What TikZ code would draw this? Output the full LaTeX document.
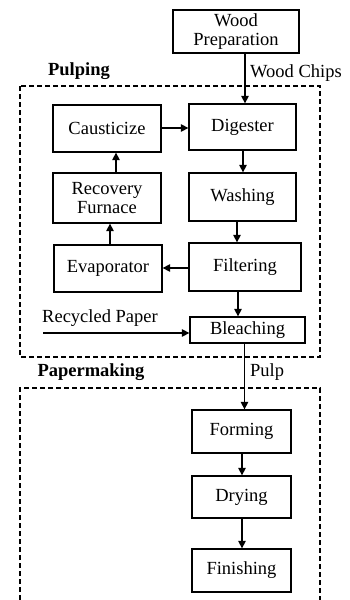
\documentclass[tikz,border=0pt]{standalone}
\usepackage{fontspec}
\setmainfont{Liberation Serif}
\usetikzlibrary{arrows.meta}
\begin{document}
\begin{tikzpicture}[x=1pt,y=-1pt,
  every node/.style={font=\fontsize{18.5}{19.5}\selectfont},
  proc/.style={draw,line width=1.3pt,inner sep=0pt,align=center},
  arr/.style={line width=1.4pt,-{Triangle[length=7.5pt,width=7.5pt]}},
  zone/.style={dashed,line width=1.2pt,dash pattern=on 5pt off 3pt},
  lbl/.style={font=\fontsize{18.5}{19.5}\selectfont\bfseries}]
\useasboundingbox (0,0) rectangle (349,600);
% zones
\draw[zone] (20,86) rectangle (320,357);
\draw[zone] (20,600) -- (20,388) -- (320,388) -- (320,600);
\node[lbl] (pulping) at (79,71) {Pulping};
\node[lbl,anchor=west] (papermaking) at (34,372) {Papermaking};
% boxes
\node[proc,minimum width=126pt,minimum height=43pt] (wp) at (236,31.5) {Wood\\Preparation};
\node[proc,minimum width=108pt,minimum height=47pt] (caus) at (107,128.5) {Causticize};
\node[proc,minimum width=107pt,minimum height=46pt] (dig) at (242.5,127) {Digester};
\node[proc,minimum width=108pt,minimum height=50pt] (rec) at (107,198) {Recovery\\Furnace};
\node[proc,minimum width=107pt,minimum height=48pt] (wash) at (242.5,197) {Washing};
\node[proc,minimum width=108pt,minimum height=47pt] (evap) at (108,268.5) {Evaporator};
\node[proc,minimum width=112pt,minimum height=48pt] (filt) at (245,267) {Filtering};
\node[proc,minimum width=115pt,minimum height=26pt] (bleach) at (247.5,330) {Bleaching};
\node[proc,minimum width=99pt,minimum height=43pt] (form) at (241.5,431.5) {Forming};
\node[proc,minimum width=99pt,minimum height=42pt] (dry) at (241.5,497) {Drying};
\node[proc,minimum width=99pt,minimum height=43pt] (fin) at (241.5,570.5) {Finishing};
% labels
\node[anchor=west,inner sep=0pt] (wc) at (250,73) {Wood Chips};
\node[anchor=west,inner sep=0pt] (rp) at (42,318) {Recycled Paper};
\node[anchor=west,inner sep=0pt] (pulp) at (250,372) {Pulp};
\coordinate (rpstart) at (43,333);
% arrows
\draw[arr] (wp.south -| 245,0) -- (dig.north -| 245,0);
\draw[arr] (caus.east |- 0,128) -- (dig.west |- 0,128);
\draw[arr] (rec.north -| 116,0) -- (caus.south -| 116,0);
\draw[arr] (evap.north -| 110,0) -- (rec.south -| 110,0);
\draw[arr] (dig.south -| 243,0) -- (wash.north -| 243,0);
\draw[arr] (wash.south -| 237,0) -- (filt.north -| 237,0);
\draw[arr] (filt.west |- 0,268) -- (evap.east |- 0,268);
\draw[arr] (filt.south -| 238,0) -- (bleach.north -| 238,0);
\draw[arr] (rpstart) -- (rpstart -| bleach.west);
\draw[arr] (bleach.south -| 244.5,0) -- (form.north -| 244.5,0);
\draw[arr] (form.south -| 242,0) -- (dry.north -| 242,0);
\draw[arr] (dry.south -| 242,0) -- (fin.north -| 242,0);
\end{tikzpicture}
\end{document}
